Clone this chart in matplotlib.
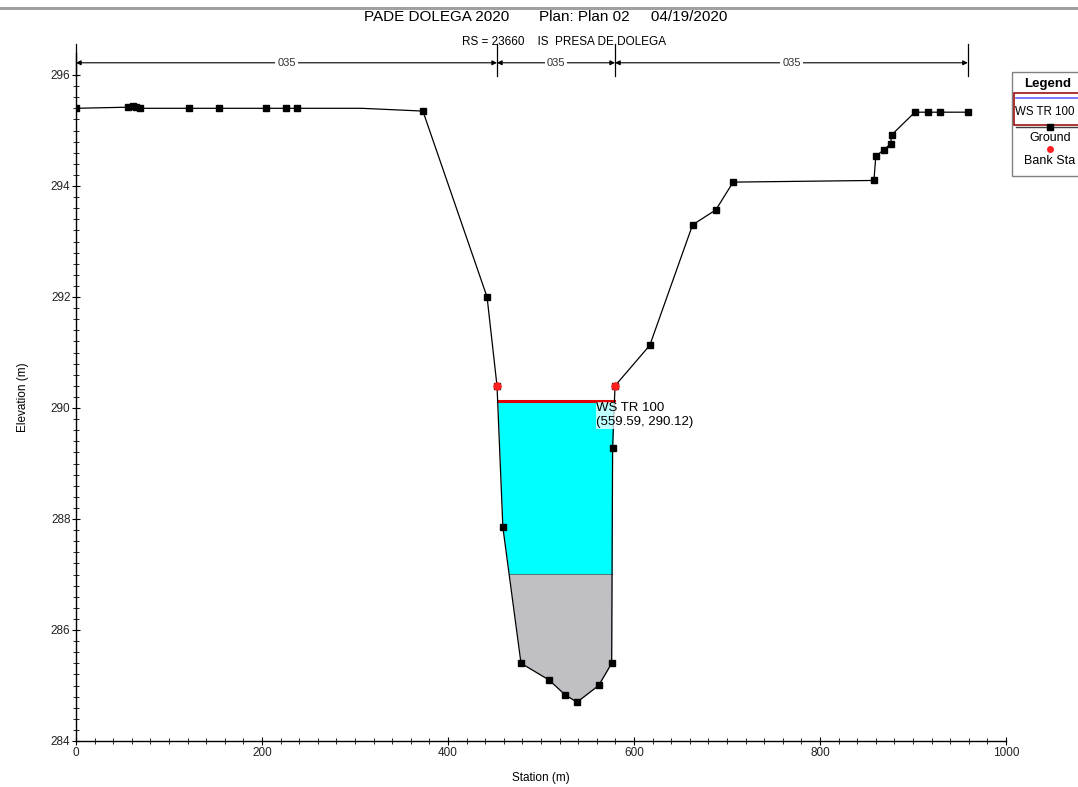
import numpy as np
import matplotlib
matplotlib.use("Agg")
import matplotlib.pyplot as plt
from matplotlib.patches import Rectangle
from matplotlib.lines import Line2D

# ---------------- data ----------------
station = [0, 56, 61, 64, 69, 121, 154, 204, 226, 238, 307, 373, 442, 452.7, 459,
           478.5, 508.6, 526, 538.7, 562, 576, 577, 579.6, 617, 663, 688, 706.6,
           858, 860, 868.6, 876, 877, 902, 916, 929, 959]
ground = [295.40, 295.42, 295.44, 295.42, 295.40, 295.40, 295.40, 295.40, 295.40, 295.40,
          295.40, 295.35, 292.00, 290.40, 287.85, 285.40, 285.10, 284.83, 284.70,
          285.00, 285.40, 289.28, 290.40, 291.13, 293.30, 293.57, 294.07, 294.10,
          294.54, 294.65, 294.76, 294.92, 295.33, 295.33, 295.33, 295.33]
# which ground points are drawn with markers (the 307 vertex is a plain bend)
marker_mask = [True] * len(station)
marker_mask[10] = False
bank_sta = [452.7, 579.6]
bank_elev = [290.40, 290.40]
ws_elev = 290.12
ws_label = "WS TR 100\n(559.59, 290.12)"
ws_label_pos = (559.59, 290.12)
split_elev = 287.0
n_bounds = [0, 452.7, 579.6, 959]
n_labels = ["035", "035", "035"]
title = "PADE DOLEGA 2020       Plan: Plan 02     04/19/2020"
subtitle = "RS = 23660    IS  PRESA DE DOLEGA"

FONT = ["Liberation Sans", "DejaVu Sans"]
plt.rcParams["font.family"] = FONT

fig = plt.figure(figsize=(10.78, 7.87), dpi=100)
L, R = 76 / 1078, 1006 / 1078
B, T = 1 - 741 / 787, 1 - 52.8 / 787
ax = fig.add_axes([L, B, R - L, T - B])
ax.set_xlim(0, 1000)
ax.set_ylim(284, 296.4)

sta = np.asarray(station, float)
gr = np.asarray(ground, float)
# fine grid for rendering the fills
xs = np.linspace(bank_sta[0], bank_sta[1], 4000)
gs = np.interp(xs, sta, gr)
wet = gs < ws_elev
ax.fill_between(xs, np.maximum(gs, split_elev), ws_elev,
                where=wet & (np.maximum(gs, split_elev) < ws_elev),
                color="#00ffff", lw=0, interpolate=True, zorder=1)
ax.fill_between(xs, gs, split_elev, where=gs < split_elev,
                color="#c0c0c4", lw=0, interpolate=True, zorder=1)
# water surface line
ax.plot(xs[wet][[0, -1]], [ws_elev, ws_elev], color="#e00000", lw=2.2, zorder=3)
# boundary between cyan and gray
g_split = xs[gs < split_elev]
ax.plot([g_split[0], g_split[-1]], [split_elev, split_elev], color="#606060", lw=0.6, zorder=2)

# ground
ax.plot(sta, gr, color="black", lw=0.9, zorder=4)
ax.plot(sta[marker_mask], gr[marker_mask], ls="none", marker="s", ms=4.2,
        color="black", zorder=5)
ax.plot(bank_sta, bank_elev, ls="none", marker="o", ms=5, color="#ff2020", zorder=6)

# WS label
ax.text(ws_label_pos[0], ws_label_pos[1] - 0.02, ws_label, ha="left", va="top",
        fontsize=9.5, zorder=7,
        bbox=dict(facecolor="white", alpha=0.75, edgecolor="none", pad=0.5))

# Manning's n annotations
ny = 296.22
for i, lab in enumerate(n_labels):
    a, b = n_bounds[i], n_bounds[i + 1]
    ax.annotate("", xy=(a, ny), xytext=(b, ny), annotation_clip=False,
                arrowprops=dict(arrowstyle="<|-|>", lw=0.8, color="black",
                                mutation_scale=7, shrinkA=0, shrinkB=0))
    ax.text((a + b) / 2, ny, lab, ha="center", va="center", fontsize=8,
            color="#333333", zorder=8,
            bbox=dict(facecolor="white", edgecolor="none", pad=1.5))
for xb in n_bounds:
    ax.plot([xb, xb], [295.98, 296.55], color="black", lw=0.9, clip_on=False)

# axes styling
for s in ["top", "right"]:
    ax.spines[s].set_visible(False)
ax.spines["left"].set_linewidth(1.0)
ax.spines["bottom"].set_linewidth(1.0)
ax.set_xticks(np.arange(0, 1001, 200))
ax.set_xticks(np.arange(0, 1001, 20), minor=True)
ax.set_yticks(np.arange(284, 296.1, 2))
ax.set_yticks(np.arange(284, 296.1, 0.2), minor=True)
ax.tick_params(which="major", direction="inout", length=6, width=0.8, labelsize=8.5,
               labelcolor="#222222")
ax.tick_params(which="minor", direction="inout", length=4, width=0.6)
ax.tick_params(axis="x", pad=1)
ax.tick_params(axis="y", pad=1)
ax.set_xlabel("Station (m)", fontsize=8.5, labelpad=10)
ax.set_ylabel("Elevation (m)", fontsize=8.5, labelpad=16)

# titles
fig.text(546 / 1078, 1 - 17 / 787, title, ha="center", va="center", fontsize=11)
fig.text(564 / 1078, 1 - 42 / 787, subtitle, ha="center", va="center", fontsize=8.5)

# screenshot top bar
fig.add_artist(Rectangle((0, 1 - 10 / 787), 1, 3 / 787, transform=fig.transFigure,
                         facecolor="#a0a0a0", edgecolor="none"))

# legend (box partially cut at right edge)
def fx(p): return p / 1078
def fy(p): return 1 - p / 787
fig.add_artist(Rectangle((fx(1012), fy(176)), fx(80), 104 / 787, transform=fig.transFigure,
                         facecolor="white", edgecolor="#808080", lw=1.0))
fig.text(fx(1048), fy(84), "Legend", ha="center", va="center", fontsize=9.5,
         fontweight="bold")
fig.add_artist(Rectangle((fx(1014), fy(125)), fx(70), 32 / 787, transform=fig.transFigure,
                         facecolor="white", edgecolor="#a01010", lw=1.2))
fig.add_artist(Line2D([fx(1016), fx(1078)], [fy(98), fy(98)], transform=fig.transFigure,
                      color="#6060ff", lw=1.2))
fig.text(fx(1015), fy(112), "WS TR 100", ha="left", va="center", fontsize=8.3)
fig.add_artist(Line2D([fx(1016), fx(1078)], [fy(127), fy(127)], transform=fig.transFigure,
                      color="#404040", lw=1.0))
fig.add_artist(Line2D([fx(1050)], [fy(127)], transform=fig.transFigure, marker="s",
                      ms=4, color="black", ls="none"))
fig.text(fx(1050), fy(138), "Ground", ha="center", va="center", fontsize=9)
fig.add_artist(Line2D([fx(1050)], [fy(149)], transform=fig.transFigure, marker="o",
                      ms=4, color="#ff2020", ls="none"))
fig.text(fx(1050), fy(161), "Bank Sta", ha="center", va="center", fontsize=9)

fig.savefig("out.png", dpi=100)
